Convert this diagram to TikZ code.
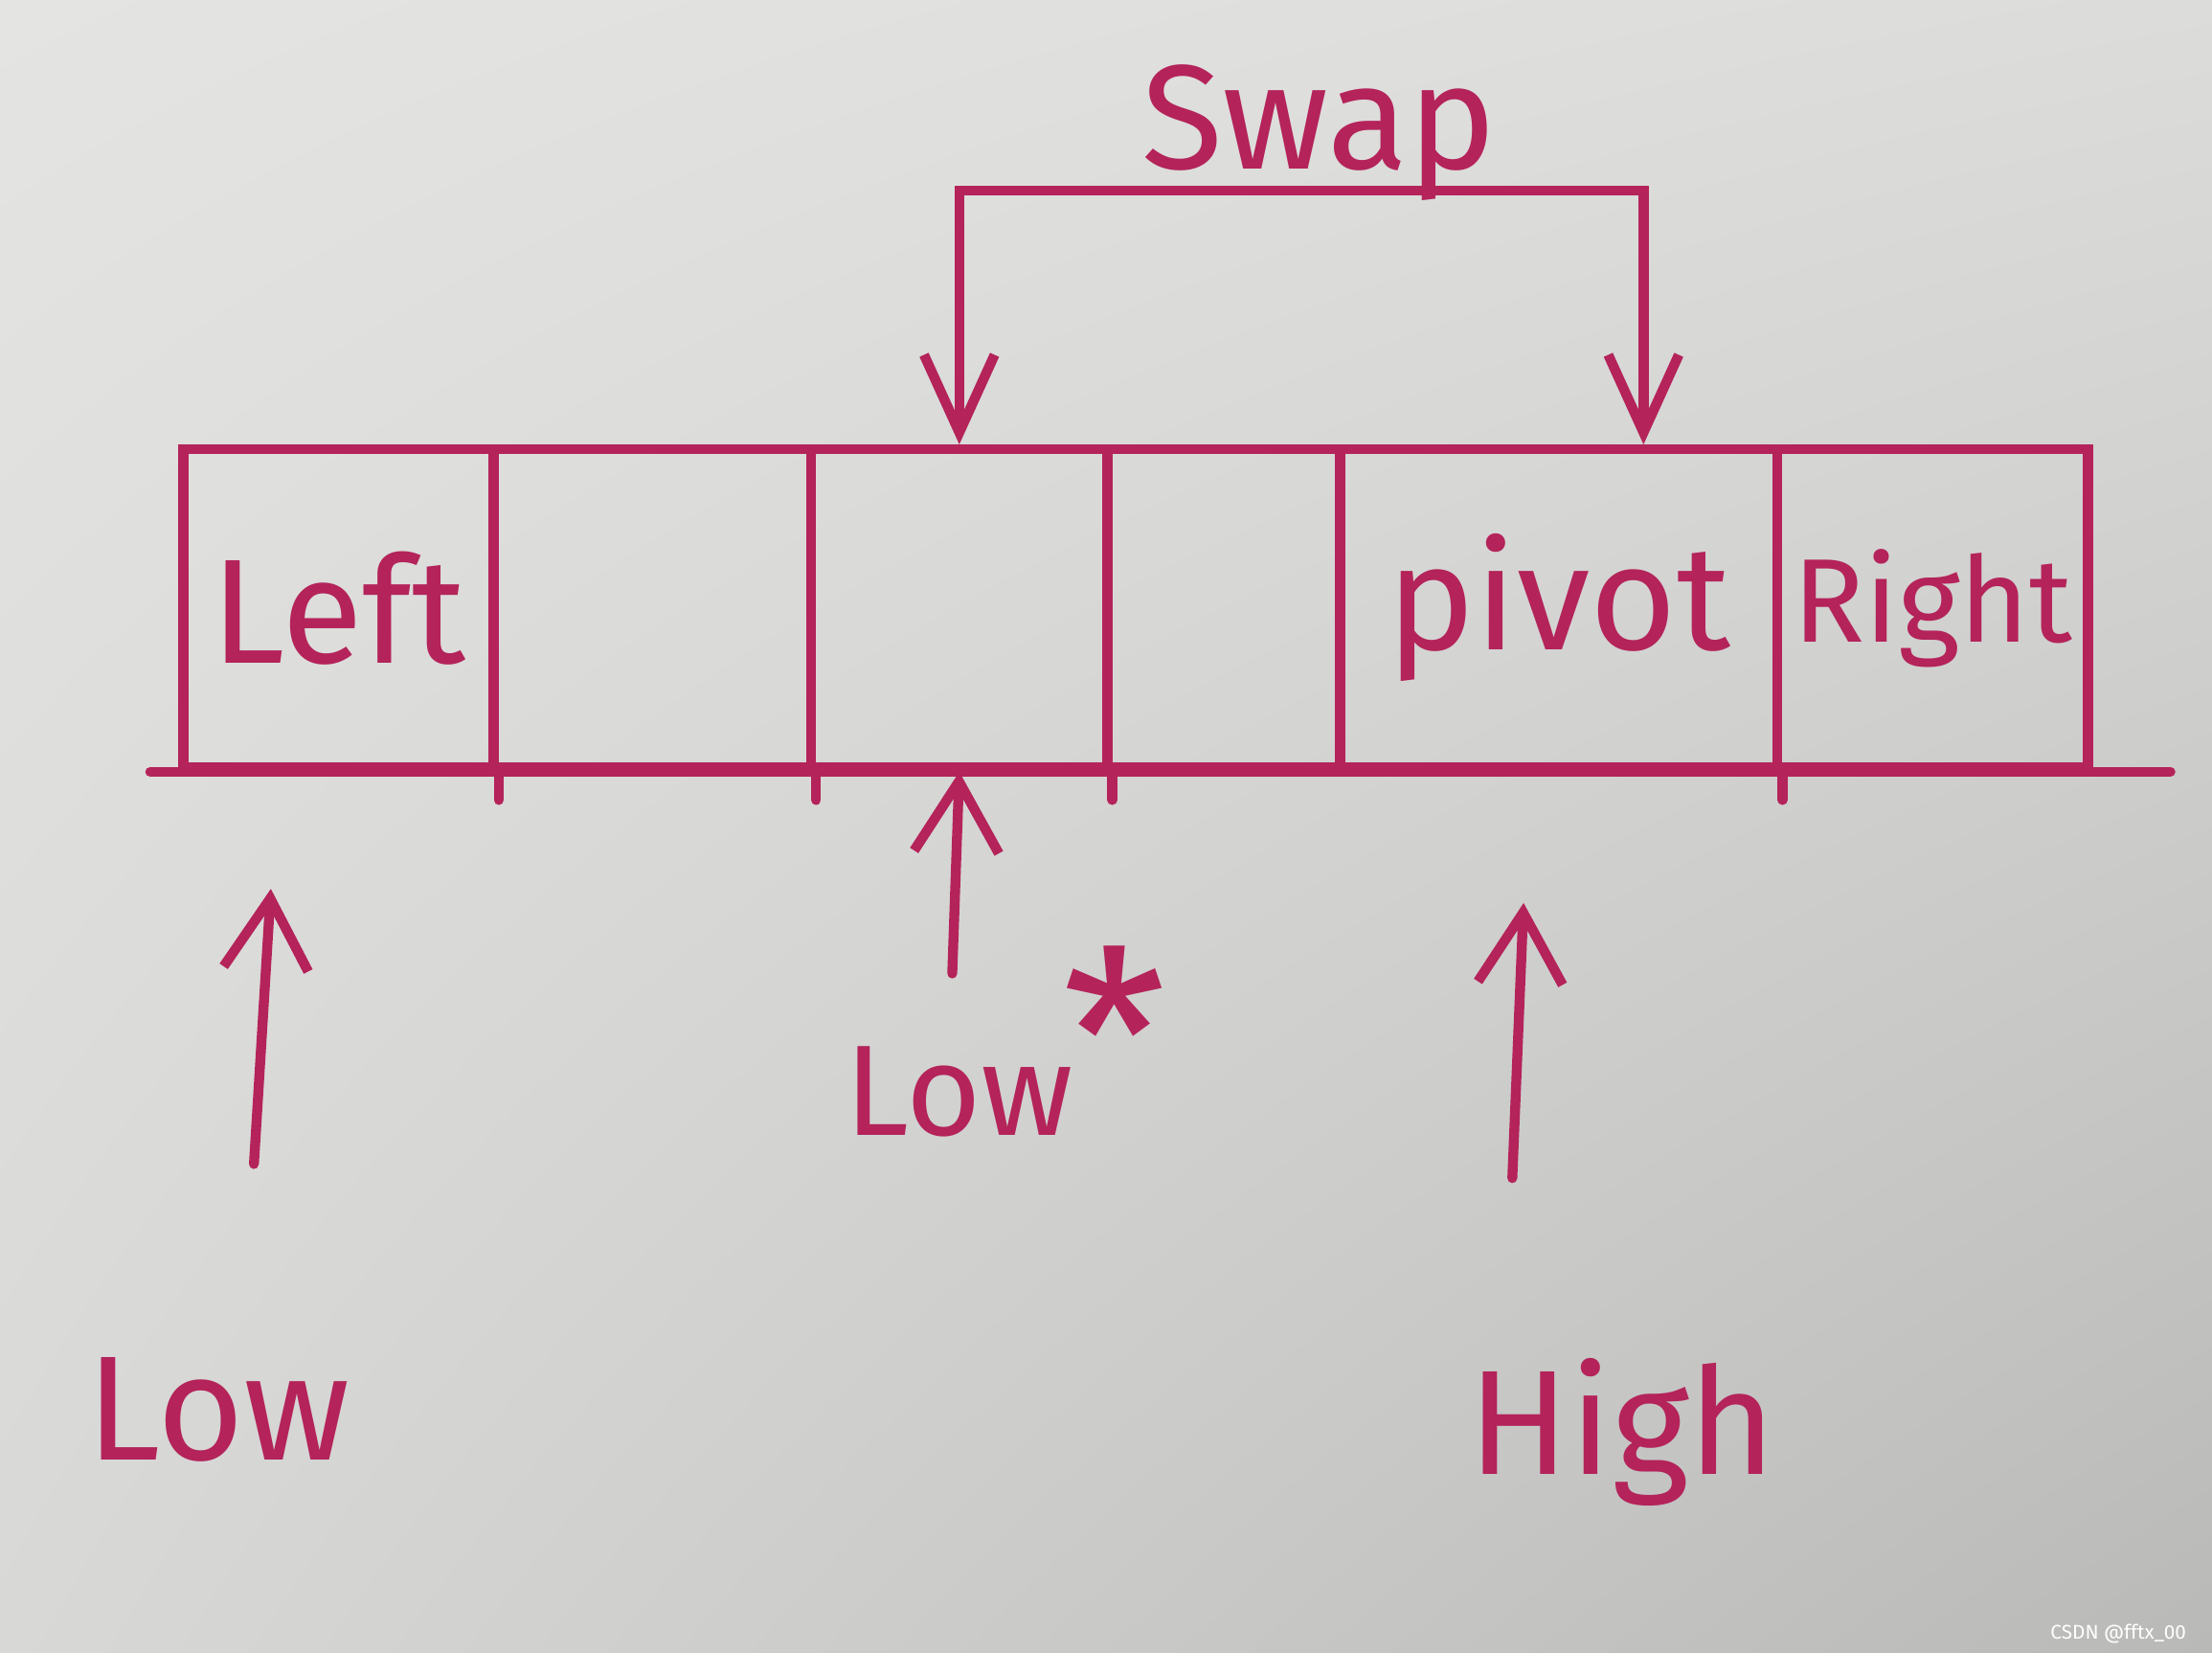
\documentclass[tikz,border=0pt]{standalone}
\usepackage{fontspec}
\setmainfont{Fira Sans}
\usetikzlibrary{arrows.meta, positioning, calc, shadings}
\definecolor{inkRed}{HTML}{B4235A}
\definecolor{paperA}{HTML}{E4E4E2}
\definecolor{paperB}{HTML}{DCDCDA}
\definecolor{paperC}{HTML}{D8D8D6}
\definecolor{paperD}{HTML}{B9B9B8}
\tikzset{
  inkline/.style  = {inkRed, line width=2pt, line cap=round},
  cell/.style     = {draw=inkRed, line width=2pt, minimum height=2.25cm,
                     inner sep=0pt, text=inkRed, font=\fontsize{30}{30}\selectfont},
  ptr/.style      = {inkline, -{Straight Barb[length=5mm, width=6mm]}},
  swp/.style      = {inkline, {Straight Barb[length=5.5mm, width=5mm]}-{Straight Barb[length=5.5mm, width=5mm]}},
  lbl/.style      = {text=inkRed, anchor=base, inner sep=0pt, font=\fontsize{30}{30}\selectfont},
}
\begin{document}
\begin{tikzpicture}
\shade[upper left=paperA, upper right=paperB, lower left=paperC, lower right=paperD]
  (0,0) rectangle (15.68,11.71);
\useasboundingbox (0,0) rectangle (15.68,11.71);
% the array
\node[cell, minimum width=2.20cm] (c1) at (2.400,7.40) {Left};
\node[cell, minimum width=2.25cm] (c2) at (4.625,7.40) {};
\node[cell, minimum width=2.10cm] (c3) at (6.800,7.40) {};
\node[cell, minimum width=1.65cm] (c4) at (8.675,7.40) {};
\node[cell, minimum width=3.10cm] (c5) at (11.050,7.40) {pivot};
\node[cell, minimum width=2.20cm, font=\fontsize{24}{24}\selectfont] (c6) at (13.700,7.40) {Right};
\draw[inkline] ([xshift=-2mm]c1.south west) -- ([xshift=5.5mm]c6.south east);
\foreach \c in {c1,c2,c3,c5}
  \draw[inkline] (\c.south east) -- ++(0,-0.2);
% swap bracket
\coordinate (barR) at (11.65,10.36);
\draw[swp] (c3.north) |- (barR) -- (barR |- c5.north);
\node[lbl] (swapLbl) at (9.35,10.51) {Swap};
% pointers below
\node[lbl] (lowL) at (1.55,1.36) {Low};
\node[lbl, font=\fontsize{26}{26}\selectfont] (lowM) at (6.80,3.66) {Low};
\node[lbl, font=\fontsize{48}{48}\selectfont] (star) at (7.90,3.76) {*};
\node[lbl] (highL) at (11.50,1.26) {High};
\coordinate (lowTail) at (1.80,3.46);
\coordinate (lowTip) at (1.92,5.41);
\coordinate (midTail) at (6.75,4.81);
\coordinate (highTail) at (10.72,3.36);
\coordinate (highTip) at (10.80,5.31);
\draw[ptr] (lowTail) -- (lowTip);
\draw[ptr] (midTail) -- (c3.south);
\draw[ptr] (highTail) -- (highTip);
\node[anchor=east, text=white, font=\fontsize{4}{4}\selectfont] (mark) at (15.62,0.13) {CSDN @fftx\_00};
\end{tikzpicture}
\end{document}
